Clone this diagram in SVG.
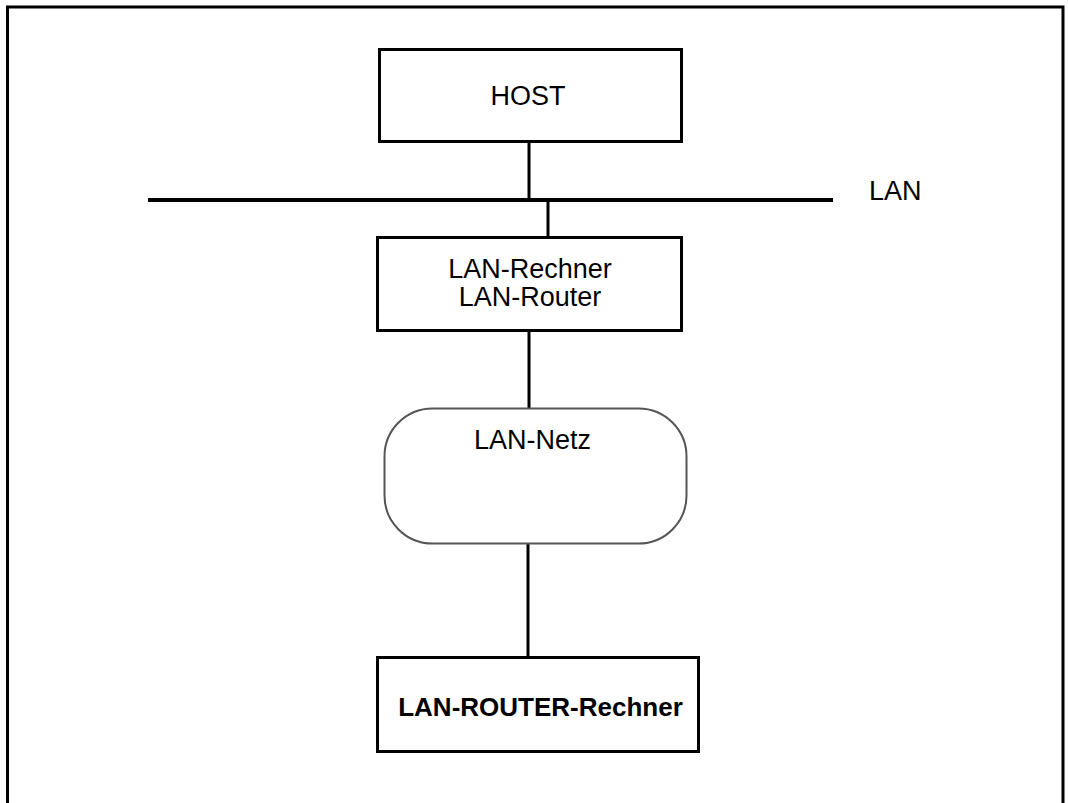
<svg xmlns="http://www.w3.org/2000/svg" width="1068" height="803" viewBox="0 0 1068 803">
<style>
.box{fill:#fff;stroke:#000;stroke-width:3}
.cloud{fill:#fff;stroke:#555;stroke-width:2}
.t{font-family:"Liberation Sans",Arial,sans-serif;font-size:27px;fill:#000;text-anchor:middle}
.b{font-weight:bold;font-size:26px}
.ln{stroke:#000;stroke-width:3;fill:none}
</style>
<rect width="1068" height="803" fill="#fff"/>
<path d="M7.5 810 V7 H1063 V810" fill="none" stroke="#000" stroke-width="3"/>
<g id="connectors">
<line class="ln" x1="529" y1="142" x2="529" y2="199"/>
<line x1="148" y1="200" x2="833" y2="200" stroke="#000" stroke-width="4"/>
<line class="ln" x1="548" y1="200" x2="548" y2="237"/>
<line class="ln" x1="529" y1="331" x2="529" y2="408"/>
<line class="ln" x1="528" y1="544" x2="528" y2="657"/>
</g>
<g id="host">
<rect class="box" x="379.5" y="49.5" width="302" height="92"/>
<text class="t" x="528" y="105">HOST</text>
</g>
<g id="lan-label">
<text class="t" x="869" y="200" style="text-anchor:start">LAN</text>
</g>
<g id="lan-rechner">
<rect class="box" x="377.5" y="237.5" width="304" height="93"/>
<text class="t" x="530" y="278">LAN-Rechner</text>
<text class="t" x="530" y="306">LAN-Router</text>
</g>
<g id="lan-netz">
<rect class="cloud" x="384.5" y="408.5" width="302" height="135" rx="48" ry="48"/>
<text class="t" x="532.5" y="449">LAN-Netz</text>
</g>
<g id="lan-router-rechner">
<rect class="box" x="377.5" y="657.5" width="321" height="94"/>
<text class="t b" x="540.5" y="716">LAN-ROUTER-Rechner</text>
</g>
</svg>
